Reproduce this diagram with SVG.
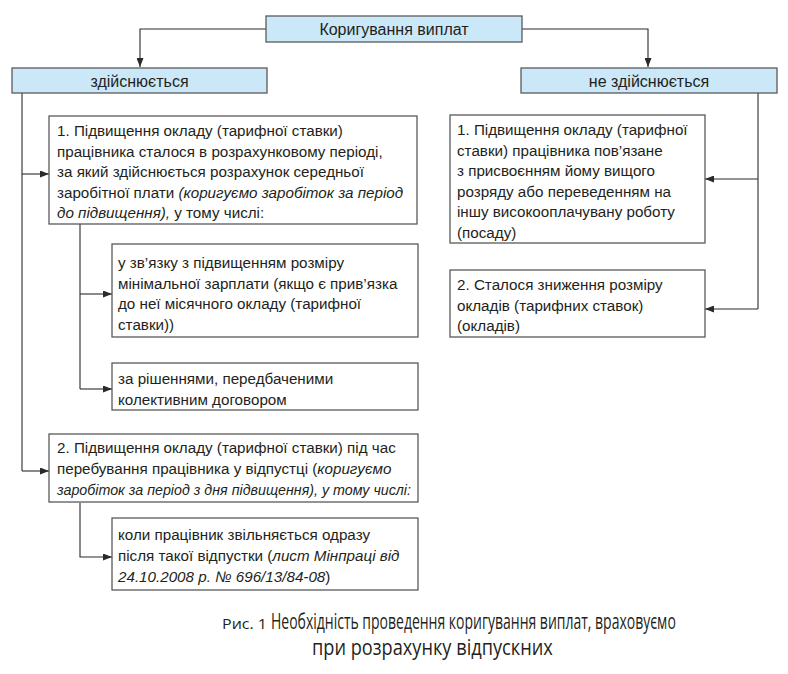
<svg xmlns="http://www.w3.org/2000/svg" width="788" height="674" viewBox="0 0 788 674">
<defs>
<marker id="arr" markerUnits="userSpaceOnUse" markerWidth="9" markerHeight="7" refX="9" refY="3.5" orient="auto">
<path d="M0,0 L9,3.5 L0,7 z" fill="#2a2a2a"/>
</marker>
<style>
.box{fill:#fff;stroke:#5a5a5a;stroke-width:1.3}
.hdr{fill:#cbe8f8;stroke:#5a5a5a;stroke-width:1.3}
.t{font-family:"Liberation Sans",Arial,sans-serif;font-size:15.2px;fill:#231f20}
.h{font-family:"Liberation Sans",Arial,sans-serif;font-size:16px;fill:#231f20;text-anchor:middle}
.i{font-style:italic}
.c{fill:none;stroke:#2a2a2a;stroke-width:1.1}
.cap{font-family:"Open Sans","Noto Sans",sans-serif;font-weight:400;fill:#231f20}
</style>
</defs>
<rect width="788" height="674" fill="#fff"/>

<g id="connectors">
<path class="c" d="M266,29 H140 V67" marker-end="url(#arr)"/>
<path class="c" d="M522,29 H648 V67" marker-end="url(#arr)"/>
<path class="c" d="M22,93 V471"/>
<path class="c" d="M22,174 H49" marker-end="url(#arr)"/>
<path class="c" d="M22,471 H49" marker-end="url(#arr)"/>
<path class="c" d="M80,224 V389"/>
<path class="c" d="M80,294 H112" marker-end="url(#arr)"/>
<path class="c" d="M80,389 H112" marker-end="url(#arr)"/>
<path class="c" d="M80,503 V557 H112" marker-end="url(#arr)"/>
<path class="c" d="M758,93 V309"/>
<path class="c" d="M758,179 H705" marker-end="url(#arr)"/>
<path class="c" d="M758,309 H705" marker-end="url(#arr)"/>
</g>

<g id="root">
<rect class="hdr" x="266" y="16" width="256" height="26"/>
<text class="h" x="394" y="35">Коригування виплат</text>
</g>
<g id="yes">
<rect class="hdr" x="12" y="68" width="255" height="25"/>
<text class="h" x="139.5" y="86.5">здійснюється</text>
</g>
<g id="no">
<rect class="hdr" x="521" y="68" width="256" height="25"/>
<text class="h" x="649" y="86.5">не здійснюється</text>
</g>

<g id="box1">
<rect class="box" x="49" y="116" width="368" height="108"/>
<text class="t" x="57" y="136">1. Підвищення окладу (тарифної ставки)</text>
<text class="t" x="57" y="156.6">працівника сталося в розрахунковому періоді,</text>
<text class="t" x="57" y="177.2">за який здійснюється розрахунок середньої</text>
<text class="t" x="57" y="197.8">заробітної плати <tspan class="i">(коригуємо заробіток за період</tspan></text>
<text class="t" x="57" y="218.4"><tspan class="i">до підвищення),</tspan> у тому числі:</text>
</g>

<g id="box1a">
<rect class="box" x="112" y="244" width="306" height="93"/>
<text class="t" x="118" y="268">у зв’язку з підвищенням розміру</text>
<text class="t" x="118" y="288.6">мінімальної зарплати (якщо є прив’язка</text>
<text class="t" x="118" y="309.2">до неї місячного окладу (тарифної</text>
<text class="t" x="118" y="329.8">ставки))</text>
</g>

<g id="box1b">
<rect class="box" x="112" y="363" width="306" height="47"/>
<text class="t" x="118" y="384">за рішеннями, передбаченими</text>
<text class="t" x="118" y="404.6">колективним договором</text>
</g>

<g id="box2">
<rect class="box" x="49" y="434" width="369" height="68"/>
<text class="t" x="57" y="453">2. Підвищення окладу (тарифної ставки) під час</text>
<text class="t" x="57" y="474">перебування працівника у відпустці (<tspan class="i">коригуємо</tspan></text>
<text class="t i" x="57" y="495" font-size="14.2" textLength="354" lengthAdjust="spacingAndGlyphs">заробіток за період з дня підвищення), у тому числі:</text>
</g>

<g id="box2a">
<rect class="box" x="112" y="518" width="306" height="72"/>
<text class="t" x="118" y="540">коли працівник звільняється одразу</text>
<text class="t" x="118" y="561">після такої відпустки (<tspan class="i">лист Мінпраці від</tspan></text>
<text class="t" x="118" y="582"><tspan class="i">24.10.2008 р.  № 696/13/84-08</tspan>)</text>
</g>

<g id="boxR1">
<rect class="box" x="450" y="115" width="255" height="128"/>
<text class="t" x="457" y="135">1. Підвищення окладу (тарифної</text>
<text class="t" x="457" y="155.6">ставки) працівника пов’язане</text>
<text class="t" x="457" y="176.2">з присвоєнням йому вищого</text>
<text class="t" x="457" y="196.8">розряду або переведенням на</text>
<text class="t" x="457" y="217.4">іншу високооплачувану роботу</text>
<text class="t" x="457" y="238">(посаду)</text>
</g>

<g id="boxR2">
<rect class="box" x="450" y="270" width="255" height="67"/>
<text class="t" x="457" y="290">2. Сталося зниження розміру</text>
<text class="t" x="457" y="310.6">окладів (тарифних ставок)</text>
<text class="t" x="457" y="331.2">(окладів)</text>
</g>

<g id="caption">
<text class="cap" x="222" y="629" font-size="15" textLength="45" lengthAdjust="spacingAndGlyphs">Рис. 1</text>
<text class="cap" transform="translate(271,629) scale(0.8,1)" x="0" y="0" font-size="21" textLength="506" lengthAdjust="spacingAndGlyphs">Необхідність проведення коригування виплат, враховуємо</text>
<text class="cap" transform="translate(312,655) scale(0.8,1)" x="0" y="0" font-size="21" textLength="301" lengthAdjust="spacingAndGlyphs">при розрахунку відпускних</text>
</g>
</svg>
